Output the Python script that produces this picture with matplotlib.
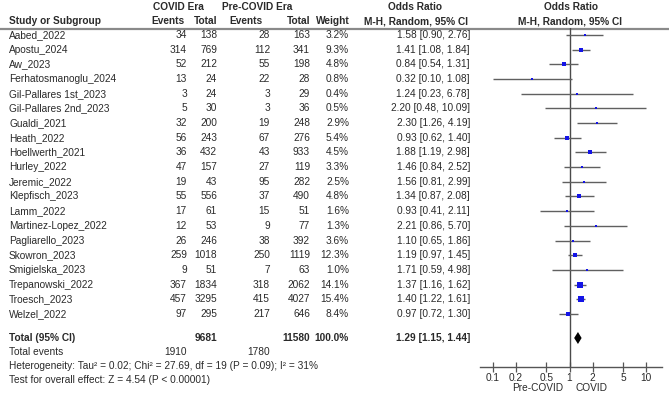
import numpy as np
import matplotlib
matplotlib.use("Agg")
import matplotlib.pyplot as plt

# study data
studies = ["Aabed_2022", "Apostu_2024", "Aw_2023", "Ferhatosmanoglu_2024",
           "Gil-Pallares 1st_2023", "Gil-Pallares 2nd_2023", "Gualdi_2021",
           "Heath_2022", "Hoellwerth_2021", "Hurley_2022", "Jeremic_2022",
           "Klepfisch_2023", "Lamm_2022", "Martinez-Lopez_2022",
           "Pagliarello_2023", "Skowron_2023", "Smigielska_2023",
           "Trepanowski_2022", "Troesch_2023", "Welzel_2022"]
covid_events = [34, 314, 52, 13, 3, 5, 32, 56, 36, 47, 19, 55, 17, 12, 26, 259, 9, 367, 457, 97]
covid_total = [138, 769, 212, 24, 24, 30, 200, 243, 432, 157, 43, 556, 61, 53, 246, 1018, 51, 1834, 3295, 295]
pre_events = [28, 112, 55, 22, 3, 3, 19, 67, 43, 27, 95, 37, 15, 9, 38, 250, 7, 318, 415, 217]
pre_total = [163, 341, 198, 28, 29, 36, 248, 276, 933, 119, 282, 490, 51, 77, 392, 1119, 63, 2062, 4027, 646]
weights = [3.2, 9.3, 4.8, 0.8, 0.4, 0.5, 2.9, 5.4, 4.5, 3.3, 2.5, 4.8, 1.6, 1.3, 3.6, 12.3, 1.0, 14.1, 15.4, 8.4]
odds = [1.58, 1.41, 0.84, 0.32, 1.24, 2.20, 2.30, 0.93, 1.88, 1.46, 1.56, 1.34, 0.93, 2.21, 1.10, 1.19, 1.71, 1.37, 1.40, 0.97]
ci_low = [0.90, 1.08, 0.54, 0.10, 0.23, 0.48, 1.26, 0.62, 1.19, 0.84, 0.81, 0.87, 0.41, 0.86, 0.65, 0.97, 0.59, 1.16, 1.22, 0.72]
ci_high = [2.76, 1.84, 1.31, 1.08, 6.78, 10.09, 4.19, 1.40, 2.98, 2.52, 2.99, 2.08, 2.11, 5.70, 1.86, 1.45, 4.98, 1.62, 1.61, 1.30]

pooled = (1.29, 1.15, 1.44)
total_covid, total_pre = 9681, 11580
events_covid, events_pre = 1910, 1780
tick_values = [0.1, 0.2, 0.5, 1, 2, 5, 10]
tick_labels = ["0.1", "0.2", "0.5", "1", "2", "5", "10"]

W, H = 669, 395
TXT = "#2a2a2a"
FS = 7.3
plt.rcParams["font.family"] = ["Liberation Sans", "DejaVu Sans"]

fig = plt.figure(figsize=(W / 100, H / 100), dpi=100)

# full-figure axes in pixel units for the table part
ax_t = fig.add_axes([0, 0, 1, 1])
ax_t.set_xlim(0, W)
ax_t.set_ylim(H, 0)
ax_t.axis("off")


def row_y(i):
    return 35 + i * 14.68


# headers
hdr = dict(fontsize=FS, fontweight="bold", color=TXT, va="center")
ax_t.text(178, 7, "COVID Era", ha="center", **hdr)
ax_t.text(257, 7, "Pre-COVID Era", ha="center", **hdr)
ax_t.text(415, 7, "Odds Ratio", ha="center", **hdr)
ax_t.text(571, 7, "Odds Ratio", ha="center", **hdr)
ax_t.text(9, 21, "Study or Subgroup", ha="left", **hdr)
ax_t.text(185, 21, "Events", ha="right", **hdr)
ax_t.text(217, 21, "Total", ha="right", **hdr)
ax_t.text(263, 21, "Events", ha="right", **hdr)
ax_t.text(310, 21, "Total", ha="right", **hdr)
ax_t.text(350, 21, "Weight", ha="right", **hdr)
ax_t.text(416, 21, "M-H, Random, 95% CI", ha="center", **hdr)
ax_t.text(570, 21, "M-H, Random, 95% CI", ha="center", **hdr)
ax_t.plot([0, W], [28.5, 28.5], color="#8a8a8a", lw=1.6)

# study rows
cell = dict(fontsize=FS, color=TXT, va="center")
for i, name in enumerate(studies):
    y = row_y(i)
    ax_t.text(9, y, name, ha="left", **cell)
    ax_t.text(187, y, str(covid_events[i]), ha="right", **cell)
    ax_t.text(217, y, str(covid_total[i]), ha="right", **cell)
    ax_t.text(270, y, str(pre_events[i]), ha="right", **cell)
    ax_t.text(310, y, str(pre_total[i]), ha="right", **cell)
    ax_t.text(349, y, f"{weights[i]:.1f}%", ha="right", **cell)
    ax_t.text(470, y, f"{odds[i]:.2f} [{ci_low[i]:.2f}, {ci_high[i]:.2f}]",
              ha="right", **cell)

# totals
y_tot = 338
ax_t.text(9, y_tot, "Total (95% CI)", ha="left", **hdr)
ax_t.text(217, y_tot, str(total_covid), ha="right", **hdr)
ax_t.text(310, y_tot, str(total_pre), ha="right", **hdr)
ax_t.text(349, y_tot, "100.0%", ha="right", **hdr)
ax_t.text(470, y_tot, f"{pooled[0]:.2f} [{pooled[1]:.2f}, {pooled[2]:.2f}]",
          ha="right", **hdr)
ax_t.text(9, 352, "Total events", ha="left", **cell)
ax_t.text(187, 352, str(events_covid), ha="right", **cell)
ax_t.text(270, 352, str(events_pre), ha="right", **cell)
ax_t.text(9, 366, "Heterogeneity: Tau\u00b2 = 0.02; Chi\u00b2 = 27.69, df = 19 "
          "(P = 0.09); I\u00b2 = 31%", ha="left", **cell)
ax_t.text(9, 380, "Test for overall effect: Z = 4.54 (P < 0.00001)",
          ha="left", **cell)
ax_t.text(563, 388, "Pre-COVID", ha="right", **cell)
ax_t.text(576, 388, "COVID", ha="left", **cell)

# forest axes: log scale, 1 at x=569.5 px, 76.5 px per decade
x_left, x_right, y_top, y_axis = 480, 662, 28, 367
x_one, px_dec = 569.5, 76.5
ax_f = fig.add_axes([x_left / W, (H - y_axis) / H,
                     (x_right - x_left) / W, (y_axis - y_top) / H])
ax_f.set_xscale("log")
ax_f.set_xlim(10 ** ((x_left - x_one) / px_dec), 10 ** ((x_right - x_one) / px_dec))
ax_f.set_ylim(y_axis, y_top)
ax_f.patch.set_alpha(0)
for s in ["top", "left", "right"]:
    ax_f.spines[s].set_visible(False)
ax_f.spines["bottom"].set_color("#555555")
ax_f.spines["bottom"].set_linewidth(1.0)
ax_f.set_yticks([])
ax_f.set_xticks(tick_values)
ax_f.set_xticklabels(tick_labels)
ax_f.xaxis.set_minor_locator(matplotlib.ticker.NullLocator())
ax_f.tick_params(axis="x", direction="inout", length=7, width=0.9,
                 colors="#555555", labelcolor=TXT, labelsize=FS, pad=1)

ax_f.axvline(1, color="#4a4a4a", lw=1.0)

for i in range(len(studies)):
    y = row_y(i)
    ax_f.plot([ci_low[i], ci_high[i]], [y, y], color="#606060", lw=1.0,
              solid_capstyle="butt")
    side_px = max(2.0, 1.2 * np.sqrt(weights[i]) + 0.5)
    ax_f.plot(odds[i], y, marker="s", ms=side_px * 0.72, color="#1414e6",
              mec="#1414e6", mew=0, ls="none")

# pooled diamond
dx = [pooled[1], pooled[0], pooled[2], pooled[0], pooled[1]]
dy = [y_tot, y_tot - 6, y_tot, y_tot + 6, y_tot]
ax_f.fill(dx, dy, color="black", lw=0)

fig.savefig("out.png", dpi=100)
